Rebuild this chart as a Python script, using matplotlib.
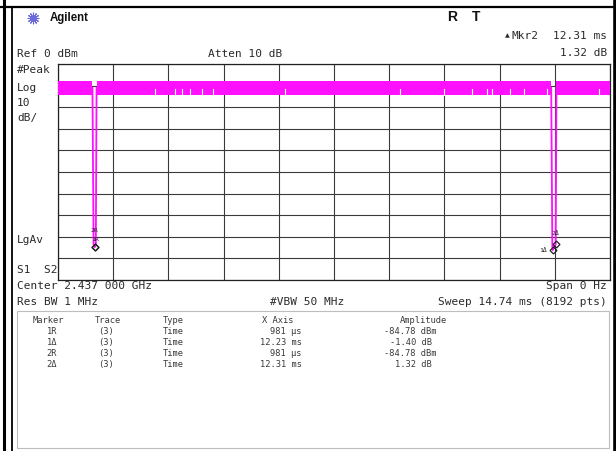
import numpy as np
import matplotlib
matplotlib.use("Agg")
import matplotlib.pyplot as plt

# ---- data ----
sweep_ms = 14.74
ref_dbm = 0
db_per_div = 10

# trace noise band (dBm), broken where the trace dips
band_segments = [(0.0, 0.92), (1.03, 13.17), (13.31, 14.74)]
band_top = -7.9
band_bot = -14.4
# small notches in the band (ms)
notch_t = [2.59, 3.13, 3.32, 3.53, 3.85, 4.15, 6.07, 9.12, 10.30, 11.05,
           11.45, 11.58, 12.06, 12.44, 13.05, 14.45]
notch_top = -11.6

# the two dips of the trace
dip1_t = [0.92, 0.95, 0.981, 1.01, 1.03]
dip1_amp = [-11.0, -83.5, -84.78, -83.5, -11.0]
dip2_t = [13.17, 13.20, 13.21, 13.25, 13.29, 13.31]
dip2_amp = [-11.0, -84.5, -86.18, -84.5, -83.46, -11.0]

# markers: label, time ms, amplitude dBm, label offset (ms, dB)
mk_labels = ["1R", "2R", "1Δ", "2Δ"]
mk_t = [0.981, 0.981, 13.21, 13.29]
mk_amp = [-84.78, -84.78, -86.18, -83.46]
mk_off = [(0.0, 3.6), (0.0, 7.6), (-0.16, 0.0), (0.0, 5.0)]

# marker table
tbl_marker = ["1R", "1Δ", "2R", "2Δ"]
tbl_trace = ["(3)", "(3)", "(3)", "(3)"]
tbl_type = ["Time", "Time", "Time", "Time"]
tbl_x = ["981 µs", "12.23 ms", "981 µs", "12.31 ms"]
tbl_amp = ["-84.78 dBm", "-1.40 dB ", "-84.78 dBm", "1.32 dB "]

W, H = 616, 451
fig = plt.figure(figsize=(W / 100, H / 100), dpi=100)
fig.patch.set_facecolor("white")

# background axes in pixel coords for texts and frames
bg = fig.add_axes([0, 0, 1, 1])
bg.set_xlim(0, W)
bg.set_ylim(H, 0)
bg.axis("off")

mono = "DejaVu Sans Mono"
tc = "#2a2a2a"
fs = 8.0

# outer frame
bg.plot([3.5, 3.5], [0, H], color="black", lw=2.2)
bg.plot([12, 12], [6.5, H], color="black", lw=1.3)
bg.plot([0, W], [6.5, 6.5], color="black", lw=1.6)
bg.plot([614.5, 614.5], [0, H], color="black", lw=2.6)

# header
bg.scatter([33], [18], marker=(12, 2, 0), s=60, color="#6a6ad8", lw=0.8)
bg.text(50, 18, "Agilent", fontsize=8.3, fontweight="bold",
        family="Liberation Sans", va="center", color="#111111")
bg.text(447, 17, "R", fontsize=10, fontweight="bold",
        family="Liberation Sans", va="center", color="#111111")
bg.text(472, 17, "T", fontsize=10, fontweight="bold",
        family="Liberation Sans", va="center", color="#111111")
bg.text(505, 36, "▲", fontsize=4.5, family="DejaVu Sans", va="center", color=tc)
bg.text(512, 36, "Mkr2", fontsize=fs, family=mono, va="center", color=tc)
bg.text(607, 36, "12.31 ms", fontsize=fs, family=mono, va="center", ha="right", color=tc)
bg.text(607, 53, "1.32 dB", fontsize=fs, family=mono, va="center", ha="right", color=tc)
bg.text(17, 54, "Ref 0 dBm", fontsize=fs, family=mono, va="center", color=tc)
bg.text(208, 54, "Atten 10 dB", fontsize=fs, family=mono, va="center", color=tc)

# left side labels
for s, y in [("#Peak", 70), ("Log", 88), ("10", 103), ("dB/", 118),
             ("LgAv", 240), ("S1  S2", 270)]:
    bg.text(17, y, s, fontsize=fs, family=mono, va="center", color=tc)

# footer lines
bg.text(17, 286, "Center 2.437 000 GHz", fontsize=fs, family=mono, va="center", color=tc)
bg.text(607, 286, "Span 0 Hz", fontsize=fs, family=mono, va="center", ha="right", color=tc)
bg.text(17, 302, "Res BW 1 MHz", fontsize=fs, family=mono, va="center", color=tc)
bg.text(270, 302, "#VBW 50 MHz", fontsize=fs, family=mono, va="center", color=tc)
bg.text(607, 302, "Sweep 14.74 ms (8192 pts)", fontsize=fs, family=mono,
        va="center", ha="right", color=tc)

# marker table
bg.add_patch(plt.Rectangle((17, 311), 592, 137, fill=False, ec="#bdbdbd", lw=0.8))
tf = 6.3
tcol = "#3a3a3a"
hy = 323
bg.text(33, hy, "Marker", fontsize=tf, family=mono, va="baseline", color=tcol)
bg.text(95, hy, "Trace", fontsize=tf, family=mono, va="baseline", color=tcol)
bg.text(163, hy, "Type", fontsize=tf, family=mono, va="baseline", color=tcol)
bg.text(262, hy, "X Axis", fontsize=tf, family=mono, va="baseline", color=tcol)
bg.text(400, hy, "Amplitude", fontsize=tf, family=mono, va="baseline", color=tcol)
for i in range(len(tbl_marker)):
    y = 334 + i * 11
    bg.text(52, y, tbl_marker[i], fontsize=tf, family=mono, va="baseline", ha="center", color=tcol)
    bg.text(106, y, tbl_trace[i], fontsize=tf, family=mono, va="baseline", ha="center", color=tcol)
    bg.text(163, y, tbl_type[i], fontsize=tf, family=mono, va="baseline", color=tcol)
    bg.text(302, y, tbl_x[i], fontsize=tf, family=mono, va="baseline", ha="right", color=tcol)
    bg.text(437, y, tbl_amp[i], fontsize=tf, family=mono, va="baseline", ha="right", color=tcol)

# ---- the trace graticule ----
x0, x1, y0, y1 = 58, 610, 64, 280
ax = fig.add_axes([x0 / W, 1 - y1 / H, (x1 - x0) / W, (y1 - y0) / H])
ax.set_xlim(0, sweep_ms)
ax.set_ylim(ref_dbm - 10 * db_per_div, ref_dbm)
ax.set_xticks(np.linspace(0, sweep_ms, 11))
ax.set_yticks(np.linspace(ref_dbm - 10 * db_per_div, ref_dbm, 11))
ax.tick_params(length=0, labelbottom=False, labelleft=False)
ax.grid(True, color="#3a3a3a", lw=0.8)
for sp in ax.spines.values():
    sp.set_color("#222222")
    sp.set_linewidth(0.9)

mag = "#ff10ff"
for a, b in band_segments:
    ax.fill_between([a, b], band_bot, band_top, color=mag, lw=0, zorder=3)
for t in notch_t:
    ax.plot([t, t], [band_bot, notch_top], color="white", lw=0.8, zorder=4)
ax.plot(dip1_t, dip1_amp, color=mag, lw=1.3, zorder=3)
ax.plot(dip2_t, dip2_amp, color=mag, lw=1.3, zorder=3)

for lab, t, a, (dx, dy) in zip(mk_labels, mk_t, mk_amp, mk_off):
    ax.plot(t, a, marker="D", ms=3.5, mfc="none", mec="#222222", mew=0.9, zorder=5)
    ax.text(t + dx, a + dy, lab, fontsize=4.6, family=mono,
            ha="right" if dx < 0 else "center", va="center",
            color="#222222", zorder=5)

fig.savefig("out.png", dpi=100)
